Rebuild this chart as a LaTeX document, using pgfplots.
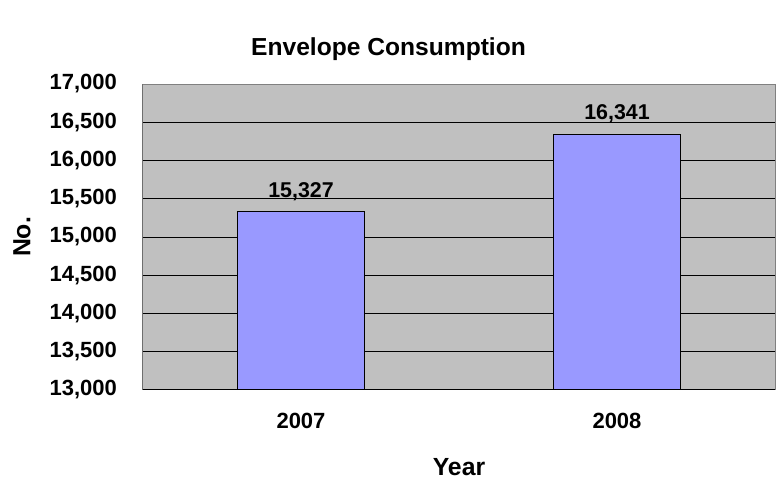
\documentclass[border=0pt]{standalone}
\usepackage{fontspec}
\setmainfont{Liberation Sans}
\usepackage{pgfplots}
\pgfplotsset{compat=1.18}
\definecolor{plotgray}{HTML}{C0C0C0}
\definecolor{barblue}{HTML}{9999FF}
\definecolor{framegray}{HTML}{808080}
\begin{document}
\begin{tikzpicture}[x=1pt,y=1pt]
\path[use as bounding box] (0,0) rectangle (388.5,241);
\begin{axis}[
  ybar, bar width=0.4,
  at={(71.5pt,46pt)}, anchor=south west,
  scale only axis, width=316pt, height=153pt,
  xmin=-0.5, xmax=1.5, ymin=13000, ymax=17000,
  ytick={13000,13500,...,17000},
  xtick={0,1}, xticklabels={2007,2008},
  major x tick style={draw=none},
  tick align=inside, tick pos=left,
  major tick length=3.5pt,
  tick style={black, line width=0.5pt},
  ymajorgrids, grid style={black, line width=0.5pt},
  axis background/.style={fill=plotgray},
  axis line style={draw=framegray, line width=0.5pt},
  /pgf/number format/assume math mode=true,
  /pgf/number format/1000 sep={,},
  scaled y ticks=false,
  yticklabel style={font=\bfseries\fontsize{11}{13}\selectfont, anchor=east, xshift=-9.5pt},
  xticklabel style={font=\bfseries\fontsize{11}{13}\selectfont, anchor=center, yshift=-15.5pt},
  title={Envelope Consumption},
  title style={font=\bfseries\fontsize{12.3}{14}\selectfont, at={(axis description cs:0.3885,1.121)}, anchor=center, yshift=-7pt},
  xlabel={Year},
  xlabel style={font=\bfseries\fontsize{12.4}{14}\selectfont, at={(axis description cs:0.5,-0.2516)}, anchor=center},
  ylabel={No.},
  ylabel style={font=\bfseries\fontsize{12.4}{14}\selectfont, at={(axis description cs:-0.1915,0.5)}, anchor=center},
  nodes near coords,
  nodes near coords style={font=\bfseries\fontsize{10.7}{12}\selectfont, /pgf/number format/assume math mode=true, /pgf/number format/1000 sep={,}, anchor=south, yshift=2.1pt},
]
\addplot[fill=barblue, draw=black, line width=0.5pt] coordinates {(0,15327) (1,16341)};
\draw[black, line width=0.5pt] (rel axis cs:0,1) -- (rel axis cs:0,0) -- (rel axis cs:1,0);
\draw[black, line width=0.5pt] (rel axis cs:0.5,0) -- ++(0,4pt);
\end{axis}
\end{tikzpicture}
\end{document}
